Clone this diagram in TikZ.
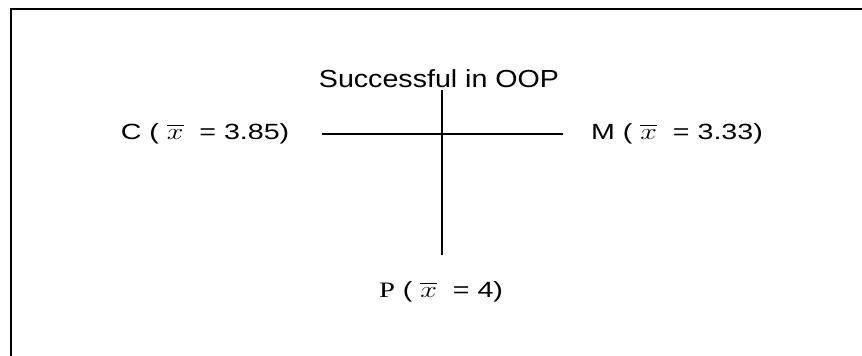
\documentclass[tikz,border=0pt]{standalone}
\usepackage{graphicx}
\usepackage{fontspec}
\setmainfont{Liberation Sans}
\newfontfamily\timesfont{Liberation Serif}
\usepackage{amsmath}

\tikzset{
  label text/.style={inner sep=0pt, anchor=base, font=\fontsize{16.5}{18}\selectfont},
  title text/.style={inner sep=0pt, anchor=base, font=\fontsize{18.5}{20}\selectfont},
  cross line/.style={line width=1.1pt},
}
\newcommand{\xbar}{$\overline{x}$}
\newcommand{\widelabel}[1]{\scalebox{1.3}[1]{#1}}

\begin{document}
\begin{tikzpicture}[x=0.75pt,y=-0.75pt]
    \useasboundingbox (0,0) rectangle (862,356);
    \clip (0,0) rectangle (862,356);

    % open frame, cut off at right and bottom
    \draw[line width=1.5pt] (11,400) -- (11,9) -- (900,9);

    % labels
    \node[title text] (title) at (439,88) {\scalebox{1.16}[1]{Successful in OOP}};
    \node[label text] (cnode) at (205,139) {\widelabel{C ( \xbar\ \ = 3.85)}};
    \node[label text] (mnode) at (677,139) {\widelabel{M ( \xbar\ \ = 3.33)}};
    \node[label text] (pnode) at (441,297) {\widelabel{{\timesfont P} ( \xbar\ \ = 4)}};

    % the cross
    \coordinate (hl) at (322,134);
    \coordinate (hr) at (563,134);
    \coordinate (vt) at (442,90);
    \coordinate (vb) at (442,255);
    \draw[cross line] (hl) -- (hr);
    \draw[cross line] (vt) -- (vb);

\end{tikzpicture}
\end{document}
